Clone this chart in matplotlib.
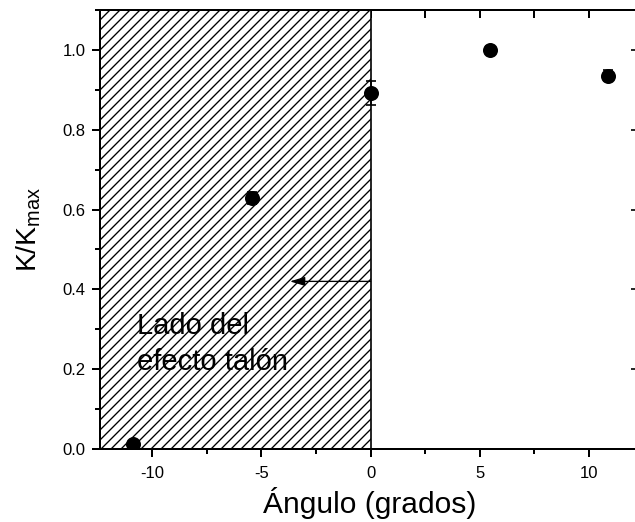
import numpy as np
import matplotlib
matplotlib.use('Agg')
import matplotlib.pyplot as plt
import matplotlib.ticker as mticker
from matplotlib import rcParams

rcParams['font.family'] = 'sans-serif'
rcParams['font.sans-serif'] = ['Liberation Sans', 'DejaVu Sans']
rcParams['mathtext.fontset'] = 'custom'
rcParams['mathtext.rm'] = 'Liberation Sans'
rcParams['axes.unicode_minus'] = False
rcParams['hatch.linewidth'] = 0.8

# data
angulo = [-10.9, -5.45, 0.0, 5.45, 10.9]
k_rel = [0.012, 0.630, 0.892, 1.000, 0.935]
k_err = [0.005, 0.015, 0.030, 0.010, 0.014]

x_min, x_max = -12.4, 12.3
y_min, y_max = 0.0, 1.1
arrow_y = 0.42
arrow_end = -3.7

dpi = 120
fig = plt.figure(figsize=(635 / dpi, 522 / dpi), dpi=dpi)
ax = fig.add_axes([100 / 635, 73 / 522, 539 / 635, 439 / 522])

# heel effect side, hatched
ax.axvspan(x_min, 0, facecolor='white', edgecolor='black',
           hatch='////', linewidth=1.0, zorder=1)

ax.errorbar(angulo, k_rel, yerr=k_err, fmt='o', color='black',
            ms=8, capsize=3, elinewidth=1, capthick=1, zorder=3)

ax.annotate('', xy=(arrow_end, arrow_y), xytext=(0, arrow_y),
            arrowprops=dict(arrowstyle='-|>,head_length=0.5,head_width=0.15',
                            color='black', lw=0.8, shrinkA=0, shrinkB=0,
                            mutation_scale=15), zorder=2)

ax.text(-10.7, 0.198, 'Lado del\nefecto talón', fontsize=17.5,
        va='baseline', ha='left', linespacing=1.38, zorder=2)

ax.set_xlim(x_min, x_max)
ax.set_ylim(y_min, y_max)

ax.xaxis.set_major_locator(mticker.MultipleLocator(5))
ax.xaxis.set_minor_locator(mticker.MultipleLocator(2.5))
ax.yaxis.set_major_locator(mticker.MultipleLocator(0.2))
ax.yaxis.set_minor_locator(mticker.MultipleLocator(0.1))
ax.yaxis.set_major_formatter(mticker.FormatStrFormatter('%.1f'))

ax.tick_params(which='major', direction='out', length=5, width=1.2,
               labelsize=10, top=False, right=False)
ax.tick_params(which='minor', direction='out', length=3, width=1.2,
               top=False, right=False)
ax.tick_params(axis='x', pad=5)

for s in ['left', 'bottom', 'top']:
    ax.spines[s].set_linewidth(1.2)
ax.spines['right'].set_visible(False)

# inward ticks on top and right
top = ax.secondary_xaxis('top')
top.xaxis.set_major_locator(mticker.MultipleLocator(5))
top.xaxis.set_minor_locator(mticker.MultipleLocator(2.5))
top.tick_params(which='both', direction='in', length=5, width=1.2,
                labeltop=False)
top.spines['top'].set_linewidth(1.2)

right = ax.secondary_yaxis('right')
right.yaxis.set_major_locator(mticker.MultipleLocator(0.2))
right.tick_params(which='major', direction='in', length=5, width=1.0,
                  labelright=False)
right.yaxis.set_minor_locator(mticker.NullLocator())
right.spines['right'].set_visible(False)

ax.set_xlabel('Ángulo (grados)', fontsize=18, labelpad=4)
ax.set_ylabel(r'K/K$_{\mathregular{max}}$', fontsize=17, labelpad=12)

fig.savefig('out.png', dpi=dpi)
